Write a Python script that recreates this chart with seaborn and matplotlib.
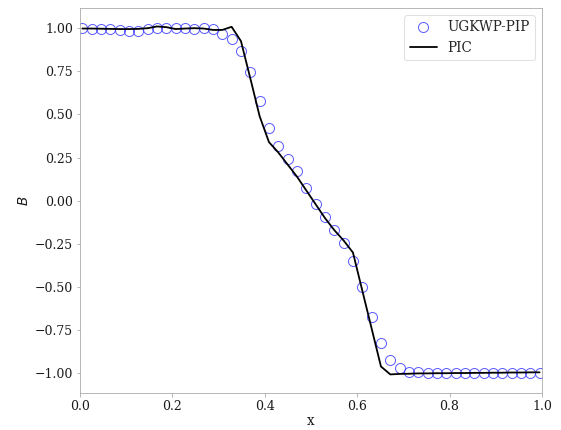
import numpy as np
import pandas as pd
import matplotlib
matplotlib.use("Agg")
import matplotlib.pyplot as plt
import seaborn as sns

# cell centres shared by both solutions
x = np.linspace(0.005, 0.995, 50)

B_ugkwp = [1.0, 0.998, 0.997, 0.993, 0.99, 0.983, 0.985, 0.995, 1.003, 1.0,
           1.002, 1.003, 0.998, 1.004, 0.996, 0.967, 0.936, 0.867, 0.745, 0.58,
           0.42, 0.32, 0.243, 0.171, 0.072, -0.019, -0.096, -0.171, -0.243, -0.349,
           -0.499, -0.675, -0.826, -0.923, -0.971, -0.991, -0.994, -0.998, -1.0, -1.0,
           -1.0, -1.0, -0.999, -0.998, -0.998, -0.997, -0.997, -0.996, -0.996, -0.995]

B_pic = [0.998, 0.998, 0.997, 0.996, 0.995, 0.995, 0.996, 1.0, 1.01, 1.006,
         0.995, 0.998, 1.0, 0.998, 0.99, 0.99, 1.008, 0.925, 0.71, 0.49,
         0.34, 0.28, 0.21, 0.14, 0.06, -0.02, -0.10, -0.17, -0.23, -0.30,
         -0.52, -0.74, -0.96, -1.006, -1.003, -1.002, -1.0, -1.0, -0.999, -0.999,
         -0.998, -0.998, -0.997, -0.997, -0.996, -0.996, -0.995, -0.995, -0.994, -0.994]

df_ugkwp = pd.DataFrame({"x": x, "B": B_ugkwp})
df_pic = pd.DataFrame({"x": x, "B": B_pic})

sns.set_style("ticks", {"axes.edgecolor": "0.65", "xtick.color": "0.65", "ytick.color": "0.65"})
plt.rcParams["font.family"] = ["DejaVu Serif"]
plt.rcParams["mathtext.fontset"] = "dejavusans"
plt.rcParams["xtick.labelcolor"] = "0.1"
plt.rcParams["ytick.labelcolor"] = "0.1"

fig = plt.figure(figsize=(561 / 72, 430 / 72), dpi=72)
ax = fig.add_axes([0.1426, 0.0867, 0.8234, 0.8943])

sns.lineplot(data=df_ugkwp, x="x", y="B", ax=ax, linestyle="", marker="o",
             markersize=10, markerfacecolor="none", markeredgecolor=(0.25, 0.25, 1.0),
             markeredgewidth=1.0, alpha=0.85, label="UGKWP-PIP")
sns.lineplot(data=df_pic, x="x", y="B", ax=ax, color="black", linewidth=1.8, label="PIC")

ax.set_xlim(0, 1)
ax.set_ylim(-1.112, 1.116)
ax.set_yticks([-1.0, -0.75, -0.5, -0.25, 0.0, 0.25, 0.5, 0.75, 1.0])
ax.tick_params(labelsize=12.5, length=3.5)
ax.set_xlabel("x", fontsize=13.5, color="0.1", labelpad=1)
ax.set_ylabel("$B$", fontsize=13.5, color="0.1")
ax.legend(loc="upper right", fontsize=13.5, frameon=True, edgecolor="0.85")

plt.savefig("out.png", dpi=72)
plt.close()
